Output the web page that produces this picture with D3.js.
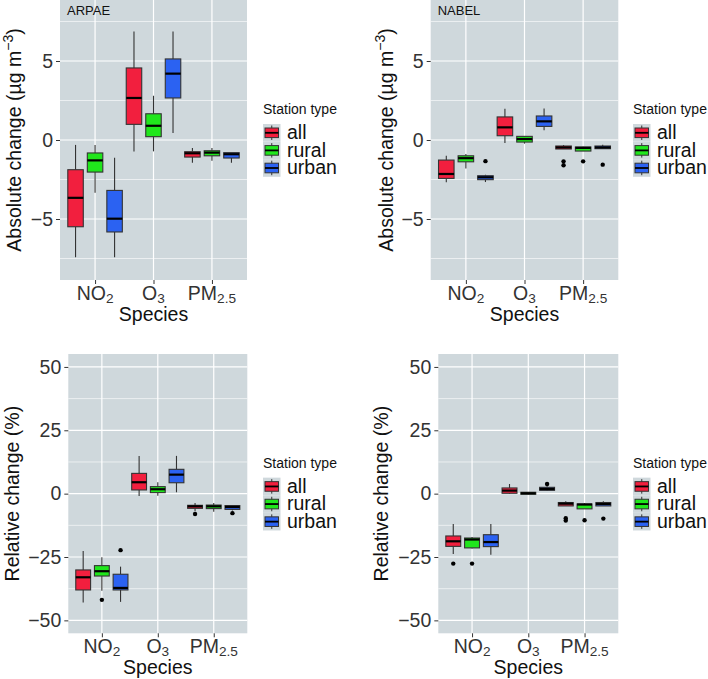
<!DOCTYPE html>
<html><head><meta charset="utf-8">
<script src="https://cdn.jsdelivr.net/npm/d3@7"></script>
<style>
body{margin:0;background:#fff;}
svg text{font-family:"Liberation Sans",Arial,sans-serif;}
</style></head>
<body><svg id="c" width="708" height="679"></svg>
<script>
// ---- data ----
const species = ["NO2", "O3", "PM2.5"];
const stationTypes = ["all", "rural", "urban"];
const stationColors = ["#F21F3E", "#20E61C", "#2B62F2"];
const absTicks = [-5, 0, 5];
const relTicks = [-50, -25, 0, 25, 50];

// rows: [species, station type, min, q1, median, q3, max, outliers]
const arpaeAbsolute = [
  ["NO2", "all",   -7.42, -5.49, -3.66, -1.88, -0.31, []],
  ["NO2", "rural", -3.34, -2.03, -1.29, -0.82, -0.32, []],
  ["NO2", "urban", -7.42, -5.82, -4.98, -3.19, -1.12, []],
  ["O3", "all",    -0.72, 0.99, 2.66, 4.56, 6.87, []],
  ["O3", "rural",  -0.72, 0.21, 0.90, 1.66, 2.80, []],
  ["O3", "urban",   0.44, 2.66, 4.20, 5.13, 6.87, []],
  ["PM2.5", "all",   -1.44, -1.08, -0.84, -0.74, -0.50, []],
  ["PM2.5", "rural", -1.31, -1.00, -0.80, -0.68, -0.50, []],
  ["PM2.5", "urban", -1.44, -1.14, -0.90, -0.80, -0.80, []]
];
const nabelAbsolute = [
  ["NO2", "all",   -2.68, -2.43, -2.15, -1.27, -1.00, []],
  ["NO2", "rural", -1.80, -1.38, -1.15, -1.00, -0.88, []],
  ["NO2", "urban", -2.66, -2.51, -2.36, -2.26, -2.20, [-1.34]],
  ["O3", "all",    -0.19, 0.27, 0.80, 1.46, 1.98, []],
  ["O3", "rural",  -0.23, -0.13, 0.06, 0.23, 0.25, []],
  ["O3", "urban",   0.61, 0.86, 1.18, 1.52, 2.00, []],
  ["PM2.5", "all",   -0.57, -0.57, -0.47, -0.38, -0.32, [-1.35, -1.60]],
  ["PM2.5", "rural", -0.70, -0.70, -0.50, -0.44, -0.42, [-1.35]],
  ["PM2.5", "urban", -0.55, -0.55, -0.47, -0.38, -0.30, [-1.56]]
];
const arpaeRelative = [
  ["NO2", "all",   -42.9, -38.0, -33.0, -30.1, -22.6, []],
  ["NO2", "rural", -38.3, -32.5, -30.6, -28.4, -25.1, [-41.9]],
  ["NO2", "urban", -42.7, -38.0, -37.2, -31.8, -28.8, [-22.3]],
  ["O3", "all",    -0.9, 1.46, 4.5, 8.0, 14.9, []],
  ["O3", "rural",  -0.8, 0.4, 1.74, 2.77, 4.5, []],
  ["O3", "urban",   0.55, 4.3, 7.5, 9.6, 14.9, []],
  ["PM2.5", "all",   -6.9, -5.8, -5.0, -4.6, -3.7, [-8.0]],
  ["PM2.5", "rural", -7.1, -5.9, -5.0, -4.5, -3.7, []],
  ["PM2.5", "urban", -6.6, -6.2, -5.25, -4.7, -4.7, [-7.7]]
];
const nabelRelative = [
  ["NO2", "all",   -23.8, -20.8, -18.8, -16.7, -12.0, [-27.6]],
  ["NO2", "rural", -21.6, -21.4, -18.1, -17.5, -17.1, [-27.6]],
  ["NO2", "urban", -24.1, -20.9, -19.1, -16.2, -12.0, []],
  ["O3", "all",    -0.1, 0.15, 1.2, 2.25, 3.8, []],
  ["O3", "rural",  -0.3, -0.25, 0.15, 0.55, 0.6, []],
  ["O3", "urban",   1.06, 1.3, 1.85, 2.5, 2.9, [3.8]],
  ["PM2.5", "all",   -4.85, -4.85, -3.95, -3.5, -3.0, [-9.7, -10.6]],
  ["PM2.5", "rural", -6.0, -6.0, -4.3, -4.06, -3.7, [-10.5]],
  ["PM2.5", "urban", -4.85, -4.85, -4.06, -3.5, -3.0, [-9.85]]
];

// ---- layout ----
const panels = [
  {data: arpaeAbsolute, label: "ARPAE", kind: "abs", x0: 60, x1: 247, y0: 0, y1: 280, titleX: 15, legX: 263},
  {data: nabelAbsolute, label: "NABEL", kind: "abs", x0: 430.7, x1: 618.3, y0: 0, y1: 280, titleX: 387, legX: 633},
  {data: arpaeRelative, label: null, kind: "rel", x0: 68.3, x1: 247.3, y0: 354, y1: 633.3, titleX: 13, legX: 263},
  {data: nabelRelative, label: null, kind: "rel", x0: 438.3, x1: 618.3, y0: 354, y1: 633.3, titleX: 382, legX: 633}
];

const svg = d3.select("#c");
const PANEL_BG = "#CFD8DC";
const FS = 19.5;

function addSpeciesLabel(sel, s) {
  const m = s.match(/^([A-Z]+)([0-9.]+)$/);
  sel.append("tspan").text(m[1]);
  sel.append("tspan").attr("font-size", FS * 0.7).attr("dy", 3).text(m[2]);
}

panels.forEach(p => {
  const g = svg.append("g");
  const isAbs = p.kind === "abs";
  const dom = isAbs ? [-8.86, 8.86] : [-55.1, 55.1];
  const ticks = isAbs ? absTicks : relTicks;
  const y = d3.scaleLinear().domain(dom).range([p.y1, p.y0]);
  const x = d3.scalePoint().domain(species).range([p.x0, p.x1]).padding(0.6);
  const step = x.step();
  const dodge = d3.scalePoint().domain(stationTypes).range([-0.334 * step, 0.334 * step]);
  const bw = 0.265 * step;
  const color = d3.scaleOrdinal().domain(stationTypes).range(stationColors);

  g.append("rect").attr("x", p.x0).attr("y", p.y0).attr("width", p.x1 - p.x0).attr("height", p.y1 - p.y0).attr("fill", PANEL_BG);
  // minor grid
  const minor = d3.pairs(ticks).map(([a, b]) => (a + b) / 2);
  minor.push(ticks[ticks.length - 1] + (ticks[1] - ticks[0]) / 2, ticks[0] - (ticks[1] - ticks[0]) / 2);
  g.selectAll(".mn").data(minor.filter(v => v > dom[0] && v < dom[1])).enter().append("line")
    .attr("x1", p.x0).attr("x2", p.x1).attr("y1", d => y(d)).attr("y2", d => y(d))
    .attr("stroke", "#fff").attr("stroke-width", 0.6);
  g.selectAll(".mj").data(ticks).enter().append("line")
    .attr("x1", p.x0).attr("x2", p.x1).attr("y1", d => y(d)).attr("y2", d => y(d))
    .attr("stroke", "#fff").attr("stroke-width", 1.2);
  g.selectAll(".mx").data(species).enter().append("line")
    .attr("x1", d => x(d)).attr("x2", d => x(d)).attr("y1", p.y0).attr("y2", p.y1)
    .attr("stroke", "#fff").attr("stroke-width", 1.2);

  // y axis
  const ya = g.append("g").attr("transform", `translate(${p.x0},0)`)
    .call(d3.axisLeft(y).tickValues(ticks).tickSize(4).tickPadding(3).tickFormat(d => d < 0 ? "\u2212" + Math.abs(d) : d));
  ya.select(".domain").remove();
  ya.selectAll(".tick line").attr("stroke", "#333");
  ya.selectAll(".tick text").attr("font-size", FS).attr("fill", "#333").attr("font-family", "Liberation Sans, Arial, sans-serif");

  // x axis
  const xa = g.append("g").attr("transform", `translate(0,${p.y1})`)
    .call(d3.axisBottom(x).tickSize(4).tickFormat(""));
  xa.select(".domain").remove();
  xa.selectAll(".tick line").attr("stroke", "#333");
  species.forEach(s => {
    const t = g.append("text").attr("x", x(s)).attr("y", p.y1 + 20).attr("text-anchor", "middle")
      .attr("font-size", FS).attr("fill", "#333");
    addSpeciesLabel(t, s);
  });
  g.append("text").attr("x", (p.x0 + p.x1) / 2).attr("y", p.y1 + 41).attr("text-anchor", "middle")
    .attr("font-size", FS).attr("fill", "#111").text("Species");

  // y title
  const yt = g.append("text").attr("transform", `translate(${p.titleX + 6},${(p.y0 + p.y1) / 2}) rotate(-90)`)
    .attr("text-anchor", "middle").attr("font-size", FS).attr("fill", "#111");
  if (isAbs) {
    yt.append("tspan").text("Absolute change (\u00b5g m");
    yt.append("tspan").attr("font-size", FS * 0.72).attr("dy", -8).text("\u22123");
    yt.append("tspan").attr("dy", 8).text(")");
  } else {
    yt.text("Relative change (%)");
  }

  if (p.label) {
    g.append("text").attr("x", p.x0 + 7).attr("y", p.y0 + 15).attr("font-size", 13).attr("fill", "#111").text(p.label);
  }

  // boxes
  p.data.forEach(r => {
    const [sp, st, mn, q1, md, q3, mx, outs] = r;
    const cx = x(sp) + dodge(st);
    const bg = g.append("g");
    bg.append("line").attr("x1", cx).attr("x2", cx).attr("y1", y(mx)).attr("y2", y(q3)).attr("stroke", "#333").attr("stroke-width", 1.1);
    bg.append("line").attr("x1", cx).attr("x2", cx).attr("y1", y(q1)).attr("y2", y(mn)).attr("stroke", "#333").attr("stroke-width", 1.1);
    bg.append("rect").attr("x", cx - bw / 2).attr("y", y(q3)).attr("width", bw).attr("height", Math.max(0.5, y(q1) - y(q3)))
      .attr("fill", color(st)).attr("stroke", "#333").attr("stroke-width", 1.1);
    bg.append("line").attr("x1", cx - bw / 2).attr("x2", cx + bw / 2).attr("y1", y(md)).attr("y2", y(md)).attr("stroke", "#000").attr("stroke-width", 2.2);
    outs.forEach(o => bg.append("circle").attr("cx", cx).attr("cy", y(o)).attr("r", 2.2).attr("fill", "#000"));
  });

  // legend
  const cy = (p.y0 + p.y1) / 2;
  const lg = g.append("g");
  lg.append("text").attr("x", p.legX).attr("y", cy - 26).attr("font-size", 14).attr("fill", "#111").text("Station type");
  stationTypes.forEach((st, i) => {
    const ky = cy - 16 + i * 17.6;
    lg.append("rect").attr("x", p.legX).attr("y", ky).attr("width", 17.5).attr("height", 17.6).attr("fill", PANEL_BG);
    const kx = p.legX + 8.75;
    lg.append("line").attr("x1", kx).attr("x2", kx).attr("y1", ky + 1.5).attr("y2", ky + 16).attr("stroke", "#333").attr("stroke-width", 1);
    lg.append("rect").attr("x", p.legX + 2).attr("y", ky + 4).attr("width", 13.5).attr("height", 9.6)
      .attr("fill", color(st)).attr("stroke", "#333").attr("stroke-width", 1);
    lg.append("line").attr("x1", p.legX + 2).attr("x2", p.legX + 15.5).attr("y1", ky + 8.8).attr("y2", ky + 8.8).attr("stroke", "#000").attr("stroke-width", 1.8);
    lg.append("text").attr("x", p.legX + 24).attr("y", ky + 15).attr("font-size", FS).attr("fill", "#111").text(st);
  });
});
</script></body></html>
